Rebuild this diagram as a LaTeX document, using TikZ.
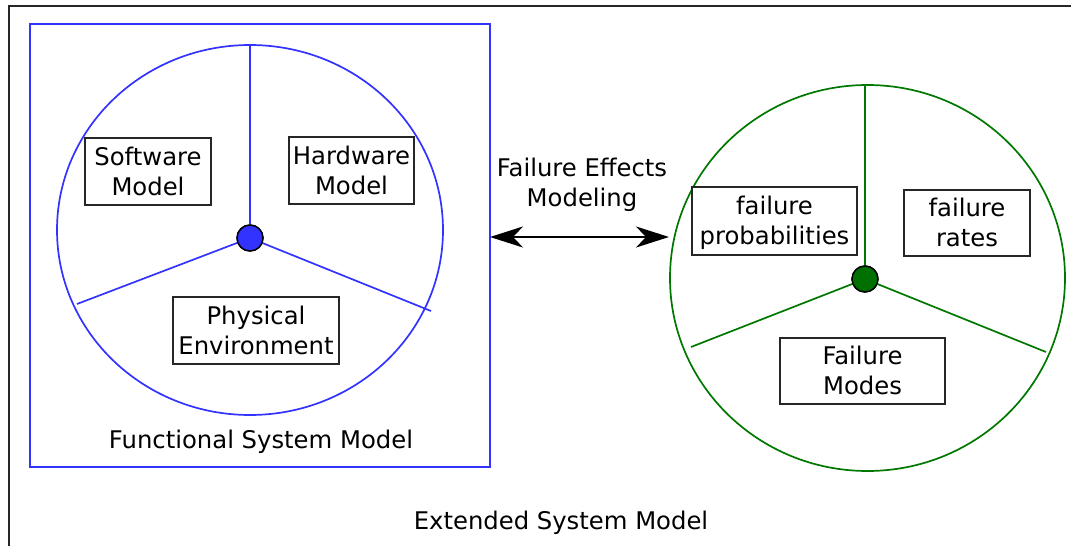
\documentclass[tikz,border=0pt]{standalone}
\usepackage{fontspec}
\setmainfont{DejaVu Sans}
\usetikzlibrary{arrows.meta}
\definecolor{fblue}{RGB}{51,51,255}
\definecolor{fgreen}{RGB}{0,120,0}
\definecolor{hubgreen}{RGB}{0,112,0}
\tikzset{
  lbl/.style={font=\fontsize{24.3}{30}\selectfont, align=center, inner sep=0pt},
  freelbl/.style={lbl, yshift=-2.5pt},
  partbox/.style={lbl, draw=black!85, line width=1.4pt, fill=white, text depth=1pt},
  spoke/.style={line width=1.7pt},
  hub/.style={circle, draw=black, line width=1.4pt, minimum size=26pt, inner sep=0pt},
}
\begin{document}
\begin{tikzpicture}[x=1pt, y=-1pt]
  \useasboundingbox (0,0) rectangle (1071,546);

  % outer frame of the extended model
  \draw[line width=2.2pt, black!85] (9,6) rectangle (1100,580);
  \node[freelbl] (ext) at (561,520) {Extended System Model};

  % functional system model
  \draw[fblue, line width=2.8pt] (30,24) rectangle (490,467);
  \node[freelbl] (func) at (261,439) {Functional System Model};
  \draw[fblue, spoke] (250,230) ellipse [x radius=193, y radius=185];
  \coordinate (bt) at (250,45);
  \coordinate (bl) at (77,304);
  \coordinate (br) at (431,311);
  \node[hub, fill=fblue] (bhub) at (250,238) {};
  \draw[fblue, spoke] (bhub) -- (bt);
  \draw[fblue, spoke] (bhub) -- (bl);
  \draw[fblue, spoke] (bhub) -- (br);
  \node[hub, fill=fblue] at (250,238) {};
  \node[partbox, minimum width=126pt, minimum height=67pt] (sw) at (148,171.5) {Software\\Model};
  \node[partbox, minimum width=125pt, minimum height=67pt] (hw) at (351.5,170.5) {Hardware\\Model};
  \node[partbox, minimum width=166pt, minimum height=67pt] (pe) at (256,330.5) {Physical\\Environment};

  % failure model
  \draw[fgreen, spoke] (867.5,278) ellipse [x radius=197.5, y radius=193];
  \coordinate (gt) at (865,86);
  \coordinate (gl) at (691,347);
  \coordinate (gr) at (1046,352);
  \node[hub, fill=hubgreen] (ghub) at (865,279) {};
  \draw[fgreen, spoke] (ghub) -- (gt);
  \draw[fgreen, spoke] (ghub) -- (gl);
  \draw[fgreen, spoke] (ghub) -- (gr);
  \node[hub, fill=hubgreen] at (865,279) {};
  \node[partbox, minimum width=165pt, minimum height=68pt] (fp) at (774.5,221) {failure\\probabilities};
  \node[partbox, minimum width=126pt, minimum height=66pt] (fr) at (967,223) {failure\\rates};
  \node[partbox, minimum width=165pt, minimum height=66pt] (fm) at (862.5,371) {Failure\\Modes};

  % link between the two models
  \coordinate (al) at (490,237);
  \coordinate (ar) at (669,237);
  \draw[line width=2.4pt, {Stealth[length=33pt, width=21pt, inset=10pt]}-{Stealth[length=33pt, width=21pt, inset=10pt]}] (al) -- (ar);
  \node[freelbl] (fem) at (582,182) {Failure Effects\\Modeling};
\end{tikzpicture}
\end{document}
